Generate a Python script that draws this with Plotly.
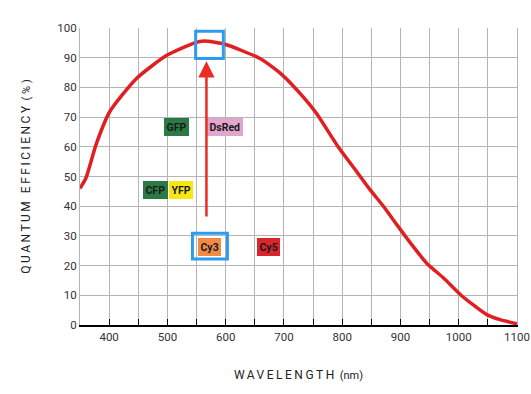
import plotly.graph_objects as go

wavelength = [350, 360, 378, 401, 447, 499, 547, 563, 596, 659, 696, 733, 756, 793, 825, 848, 871, 894, 911, 945, 974, 1003, 1048, 1071, 1100]
qe = [46.0, 49.4, 61.0, 71.8, 83.0, 90.8, 95.0, 95.6, 94.7, 89.7, 84.4, 76.8, 71.2, 60.0, 51.6, 45.5, 39.9, 33.7, 29.2, 20.8, 15.8, 10.2, 3.5, 1.8, 0.4]

x_tick_vals = [400, 500, 600, 700, 800, 900, 1000, 1100]
x_tick_text = ["400", "500", "600", "700", "800", "900", "1000", "1100"]
y_tick_vals = [0, 10, 20, 30, 40, 50, 60, 70, 80, 90, 100]

labels = ["GFP", "DsRed", "CFP", "YFP", "Cy3", "Cy5"]
label_x = [515, 598, 480, 523, 573, 673]
label_y = [66.5, 66.5, 45.5, 45.5, 26.4, 26.4]
label_colors = ["#2b7a45", "#e2a6cd", "#2b7a45", "#f5e614", "#f08a45", "#d8262c"]

peak_box = [548.5, 596, 89.7, 98.9]
cy3_box = [543, 603, 22.2, 30.9]
arrow_tip = [567, 88.8]
arrow_tail = [567, 36]

fig = go.Figure()
fig.add_trace(go.Scatter(x=wavelength, y=qe, mode="lines",
                         line=dict(color="#e01f23", width=3.5, shape="spline", smoothing=0.6),
                         hoverinfo="skip", showlegend=False))

font_fam = "Liberation Sans Narrow, Roboto, Arial, sans-serif"
for t, x, y, c in zip(labels, label_x, label_y, label_colors):
    fig.add_annotation(x=x, y=y, text="<b>" + t + "</b>", showarrow=False,
                       font=dict(family=font_fam, size=10.5, color="#1a1a1a"),
                       bgcolor=c, bordercolor=c, borderwidth=1, borderpad=1.5)

for b in (peak_box, cy3_box):
    fig.add_shape(type="rect", x0=b[0], x1=b[1], y0=b[2], y1=b[3],
                  line=dict(color="#2d9cf0", width=3), fillcolor="rgba(0,0,0,0)", layer="above")

fig.add_annotation(x=arrow_tip[0], y=arrow_tip[1], ax=arrow_tail[0], ay=arrow_tail[1],
                   xref="x", yref="y", axref="x", ayref="y", text="", showarrow=True,
                   arrowhead=2, arrowsize=1.3, arrowwidth=2.5, arrowcolor="#ee2a24")

fig.update_layout(
    width=531, height=394,
    margin=dict(l=80, r=14, t=28, b=69, autoexpand=False),
    paper_bgcolor="white", plot_bgcolor="white",
    font=dict(family=font_fam, size=11, color="#333333"),
    xaxis=dict(range=[350, 1100], tickvals=x_tick_vals, ticktext=x_tick_text,
               showgrid=True, gridcolor="#b5b5b5", gridwidth=1,
               ticks="inside", ticklen=6, tickcolor="black", tickwidth=1,
               minor=dict(dtick=50, tick0=350, showgrid=True, gridcolor="#b5b5b5",
                          ticks="inside", ticklen=6, tickcolor="black"),
               showline=True, linecolor="black", linewidth=1.5, zeroline=False,
               tickfont=dict(size=11.5, color="#333333"),
               title=dict(text="<span style='letter-spacing:2.5px'>WAVELENGTH</span> <span style='font-size:11px'>(nm)</span>",
                          font=dict(family="Roboto, Arial, sans-serif", size=12, color="#222222"), standoff=28)),
    yaxis=dict(range=[0, 100], tickvals=y_tick_vals, showgrid=True, gridcolor="#b5b5b5",
               showline=True, linecolor="#b5b5b5", mirror=True, zeroline=False,
               ticks="", tickfont=dict(size=11.5, color="#333333"),
               title=dict(text="<span style='letter-spacing:2.5px'>QUANTUM EFFICIENCY</span> <span style='font-size:11px'>( % )</span>",
                          font=dict(family="Roboto, Arial, sans-serif", size=12, color="#222222"), standoff=24)),
)

fig.write_html("out.html", config={"responsive": False, "displayModeBar": False},
               post_script="document.body.style.margin='0';document.body.style.overflow='hidden';")
